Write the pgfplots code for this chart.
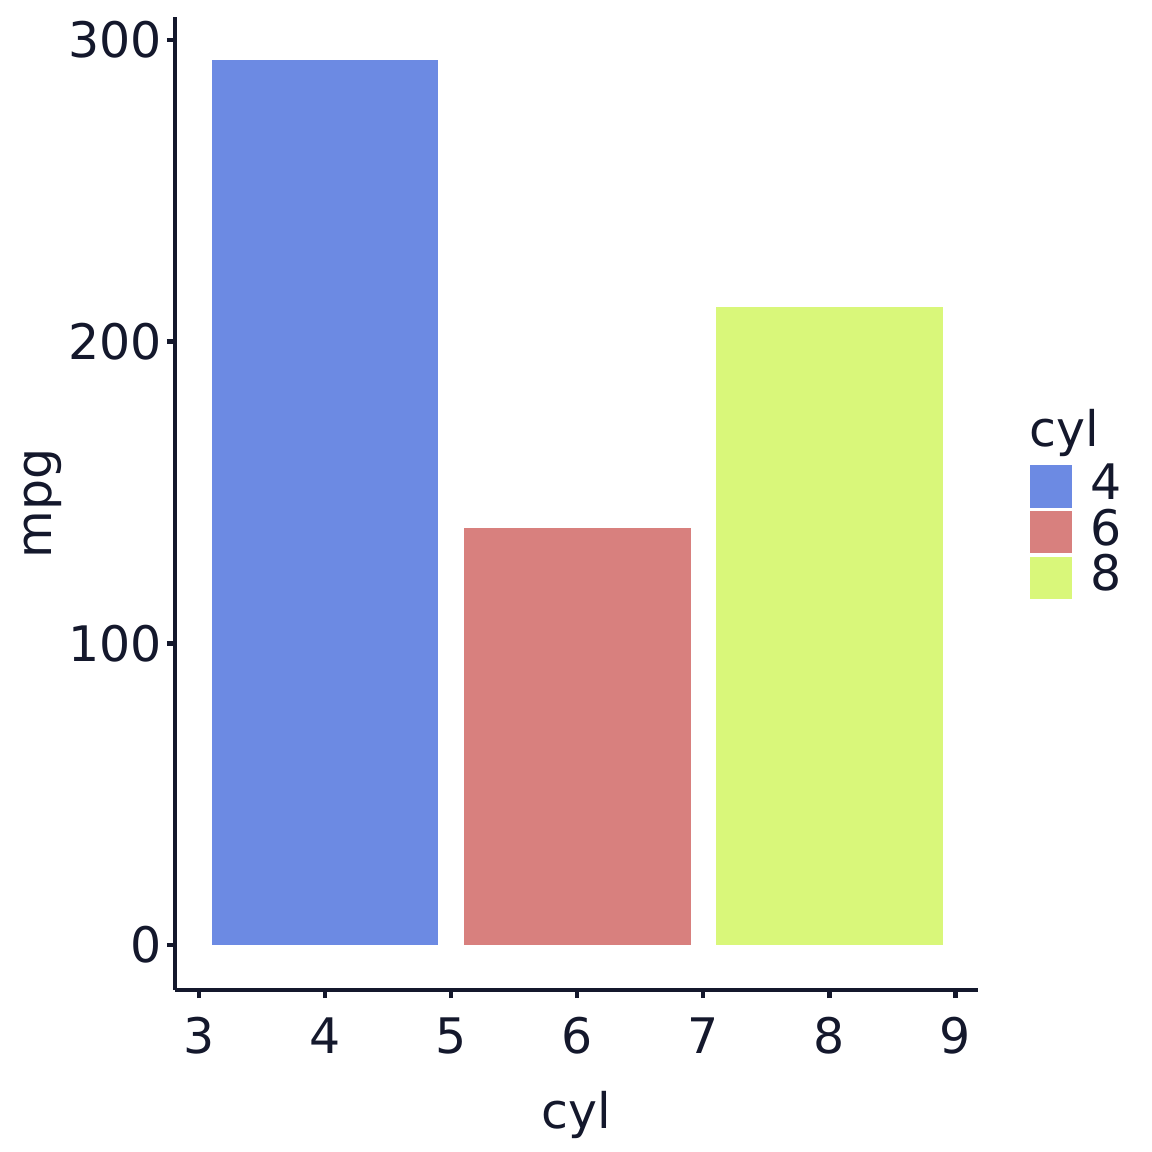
\documentclass[border=0pt]{standalone}
\usepackage{pgfplots}
\pgfplotsset{compat=1.18}
\usepackage{fontspec}
\setmainfont{DejaVu Sans}
\definecolor{txt}{RGB}{20,24,44}
\definecolor{c4}{RGB}{108,138,227}
\definecolor{c6}{RGB}{216,128,126}
\definecolor{c8}{RGB}{217,247,122}

\begin{document}
\begin{tikzpicture}[x=1pt,y=1pt]
\path (0,0) rectangle (400,400);
\begin{axis}[
    at={(60.76pt,56.25pt)}, anchor=south west,
    scale only axis,
    width=278.8pt, height=337.8pt,
    xmin=2.81, xmax=9.18,
    ymin=-14.9, ymax=307.6,
    clip=false,
    axis lines=left,
    axis line style={line width=1.7pt, color=txt, -},
    xtick={3,4,5,6,7,8,9},
    ytick={0,100,200,300},
    tick style={line width=1.6pt, color=txt},
    tick align=outside,
    major tick length=2.8pt,
    ticklabel style={font=\fontsize{17}{19}\selectfont, color=txt},
    xticklabel style={yshift=-3.2pt},
    yticklabel style={xshift=1.8pt},
    /pgf/number format/assume math mode=true,
    xlabel={cyl}, ylabel={mpg},
    label style={font=\fontsize{17}{19}\selectfont, color=txt},
    xlabel style={yshift=-5.8pt},
    ylabel style={yshift=-4.5pt},
    ybar, bar shift=0pt, bar width=1.8,
    legend style={at={(1.0635,0.5415)}, anchor=north west, draw=none,
      fill=none, inner sep=0pt, row sep=0pt,
      font=\fontsize{17}{19}\selectfont, text=txt,
      nodes={inner sep=0.5pt, text height=12pt, text depth=2.8pt},
      /tikz/every odd column/.append style={column sep=6pt}},
    legend cell align=left,
    legend image code/.code={\fill[#1] (0pt,-7.3pt) rectangle (14.6pt,7.3pt);},
]
\addplot[fill=c4, draw=none] coordinates {(4,293.3)};
\addplot[fill=c6, draw=none] coordinates {(6,138.2)};
\addplot[fill=c8, draw=none] coordinates {(8,211.4)};
\legend{4,6,8}
\node[anchor=base west, inner sep=0pt, color=txt, font=\fontsize{17}{19}\selectfont]
  at (rel axis cs:1.0635,0.559) {cyl};
\end{axis}
\end{tikzpicture}
\end{document}
